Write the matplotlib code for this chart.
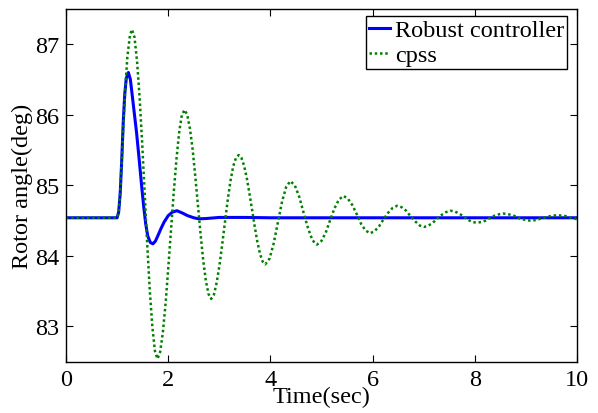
import matplotlib
matplotlib.use('Agg')
import matplotlib.pyplot as plt

plt.rcParams['font.family'] = ['Liberation Serif', 'DejaVu Serif']

# robust controller response
t_robust = [0, 1.0, 1.03, 1.06, 1.09, 1.12, 1.15, 1.18, 1.22, 1.26, 1.30, 1.34, 1.38,
            1.43, 1.48, 1.52, 1.56, 1.60, 1.65, 1.70, 1.75, 1.80, 1.86, 1.92, 2.00,
            2.08, 2.17, 2.27, 2.38, 2.50, 2.60, 2.75, 3.0, 3.5, 4.0, 10.0]
robust = [84.54, 84.54, 84.62, 84.88, 85.35, 85.90, 86.30, 86.52, 86.60, 86.50, 86.25,
          86.00, 85.75, 85.38, 84.99, 84.70, 84.45, 84.28, 84.19, 84.17, 84.21, 84.29,
          84.39, 84.48, 84.57, 84.62, 84.64, 84.61, 84.57, 84.54, 84.525, 84.53,
          84.545, 84.545, 84.54, 84.54]

# cpss response
t_cpss = [0, 1.0, 1.03, 1.06, 1.10, 1.15, 1.20, 1.25, 1.29,
          1.34, 1.39, 1.44, 1.49, 1.54, 1.59, 1.64, 1.69, 1.74, 1.79,
          1.843, 1.896, 1.949, 2.002, 2.055, 2.108, 2.161, 2.214, 2.267, 2.32,
          2.372, 2.424, 2.476, 2.528, 2.58, 2.632, 2.684, 2.736, 2.788, 2.84,
          2.894, 2.948, 3.002, 3.056, 3.11, 3.164, 3.218, 3.272, 3.326, 3.38,
          3.432, 3.484, 3.536, 3.588, 3.64, 3.692, 3.744, 3.796, 3.848, 3.90,
          3.982, 4.065, 4.145, 4.228, 4.31, 4.39,
          4.477, 4.563, 4.65, 4.737, 4.823, 4.91,
          4.997, 5.083, 5.17, 5.257, 5.343, 5.43,
          5.517, 5.603, 5.69, 5.777, 5.863, 5.95,
          6.038, 6.127, 6.215, 6.303, 6.392, 6.48,
          6.568, 6.657, 6.745, 6.833, 6.922, 7.01,
          7.095, 7.18, 7.265, 7.35, 7.435, 7.52,
          7.607, 7.693, 7.78, 7.867, 7.953, 8.04,
          8.127, 8.213, 8.30, 8.387, 8.473, 8.56,
          8.647, 8.733, 8.82, 8.907, 8.993, 9.08,
          9.167, 9.253, 9.34, 9.427, 9.513, 9.60,
          9.687, 9.773, 9.86, 9.947, 10.0]
cpss = [84.54, 84.54, 84.62, 84.90, 85.50, 86.25, 86.82, 87.12, 87.21,
        87.10, 86.76, 86.25, 85.60, 84.875, 84.15, 83.50, 82.99, 82.65, 82.54,
        82.64, 82.92, 83.33, 83.84, 84.38, 84.90, 85.37, 85.75, 86.00, 86.07,
        86.00, 85.81, 85.52, 85.14, 84.73, 84.32, 83.94, 83.65, 83.46, 83.39,
        83.45, 83.62, 83.86, 84.16, 84.48, 84.79, 85.06, 85.27, 85.39, 85.43,
        85.39, 85.28, 85.11, 84.89, 84.66, 84.42, 84.20, 84.03, 83.92, 83.88,
        83.96, 84.18, 84.47, 84.77, 84.98, 85.06,
        85.00, 84.84, 84.61, 84.39, 84.22, 84.16,
        84.21, 84.33, 84.51, 84.68, 84.80, 84.85,
        84.81, 84.72, 84.59, 84.45, 84.36, 84.32,
        84.35, 84.42, 84.52, 84.61, 84.68, 84.71,
        84.69, 84.64, 84.56, 84.49, 84.43, 84.41,
        84.43, 84.47, 84.53, 84.58, 84.62, 84.64,
        84.63, 84.60, 84.56, 84.51, 84.48, 84.47,
        84.48, 84.50, 84.54, 84.57, 84.59, 84.60,
        84.59, 84.58, 84.55, 84.52, 84.51, 84.50,
        84.505, 84.52, 84.54, 84.555, 84.57, 84.575,
        84.572, 84.565, 84.545, 84.53, 84.52]

x_ticks = [0, 2, 4, 6, 8, 10]
y_ticks = [83, 84, 85, 86, 87]

fig = plt.figure(figsize=(5.98, 4.14), dpi=100)
ax = fig.add_axes([0.1104, 0.124, 0.8545, 0.8518])

ax.plot(t_robust, robust, color='#0000ff', lw=2.2, label='Robust controller')
ax.plot(t_cpss, cpss, color='#008000', lw=1.8, linestyle=(0, (1, 1.1)), label='cpss')

ax.set_xlim(0, 10)
ax.set_ylim(82.5, 87.5)
ax.set_xticks(x_ticks)
ax.set_yticks(y_ticks)
ax.tick_params(direction='in', top=True, right=True, length=5, width=0.8,
               labelsize=17.5, pad=5)
for s in ax.spines.values():
    s.set_linewidth(1.0)

ax.set_xlabel('Time(sec)', fontsize=17.5, labelpad=-3)
ax.set_ylabel('Rotor angle(deg)', fontsize=17.5, labelpad=1)

leg = ax.legend(loc='upper right', bbox_to_anchor=(0.98, 0.979), borderaxespad=0,
                fontsize=17.5, handlelength=0.85, handletextpad=0.2, labelspacing=0.12,
                borderpad=0.12, fancybox=False, framealpha=1)
leg.get_frame().set_edgecolor('black')
leg.get_frame().set_linewidth(1.0)

fig.savefig('out.png', dpi=100)
